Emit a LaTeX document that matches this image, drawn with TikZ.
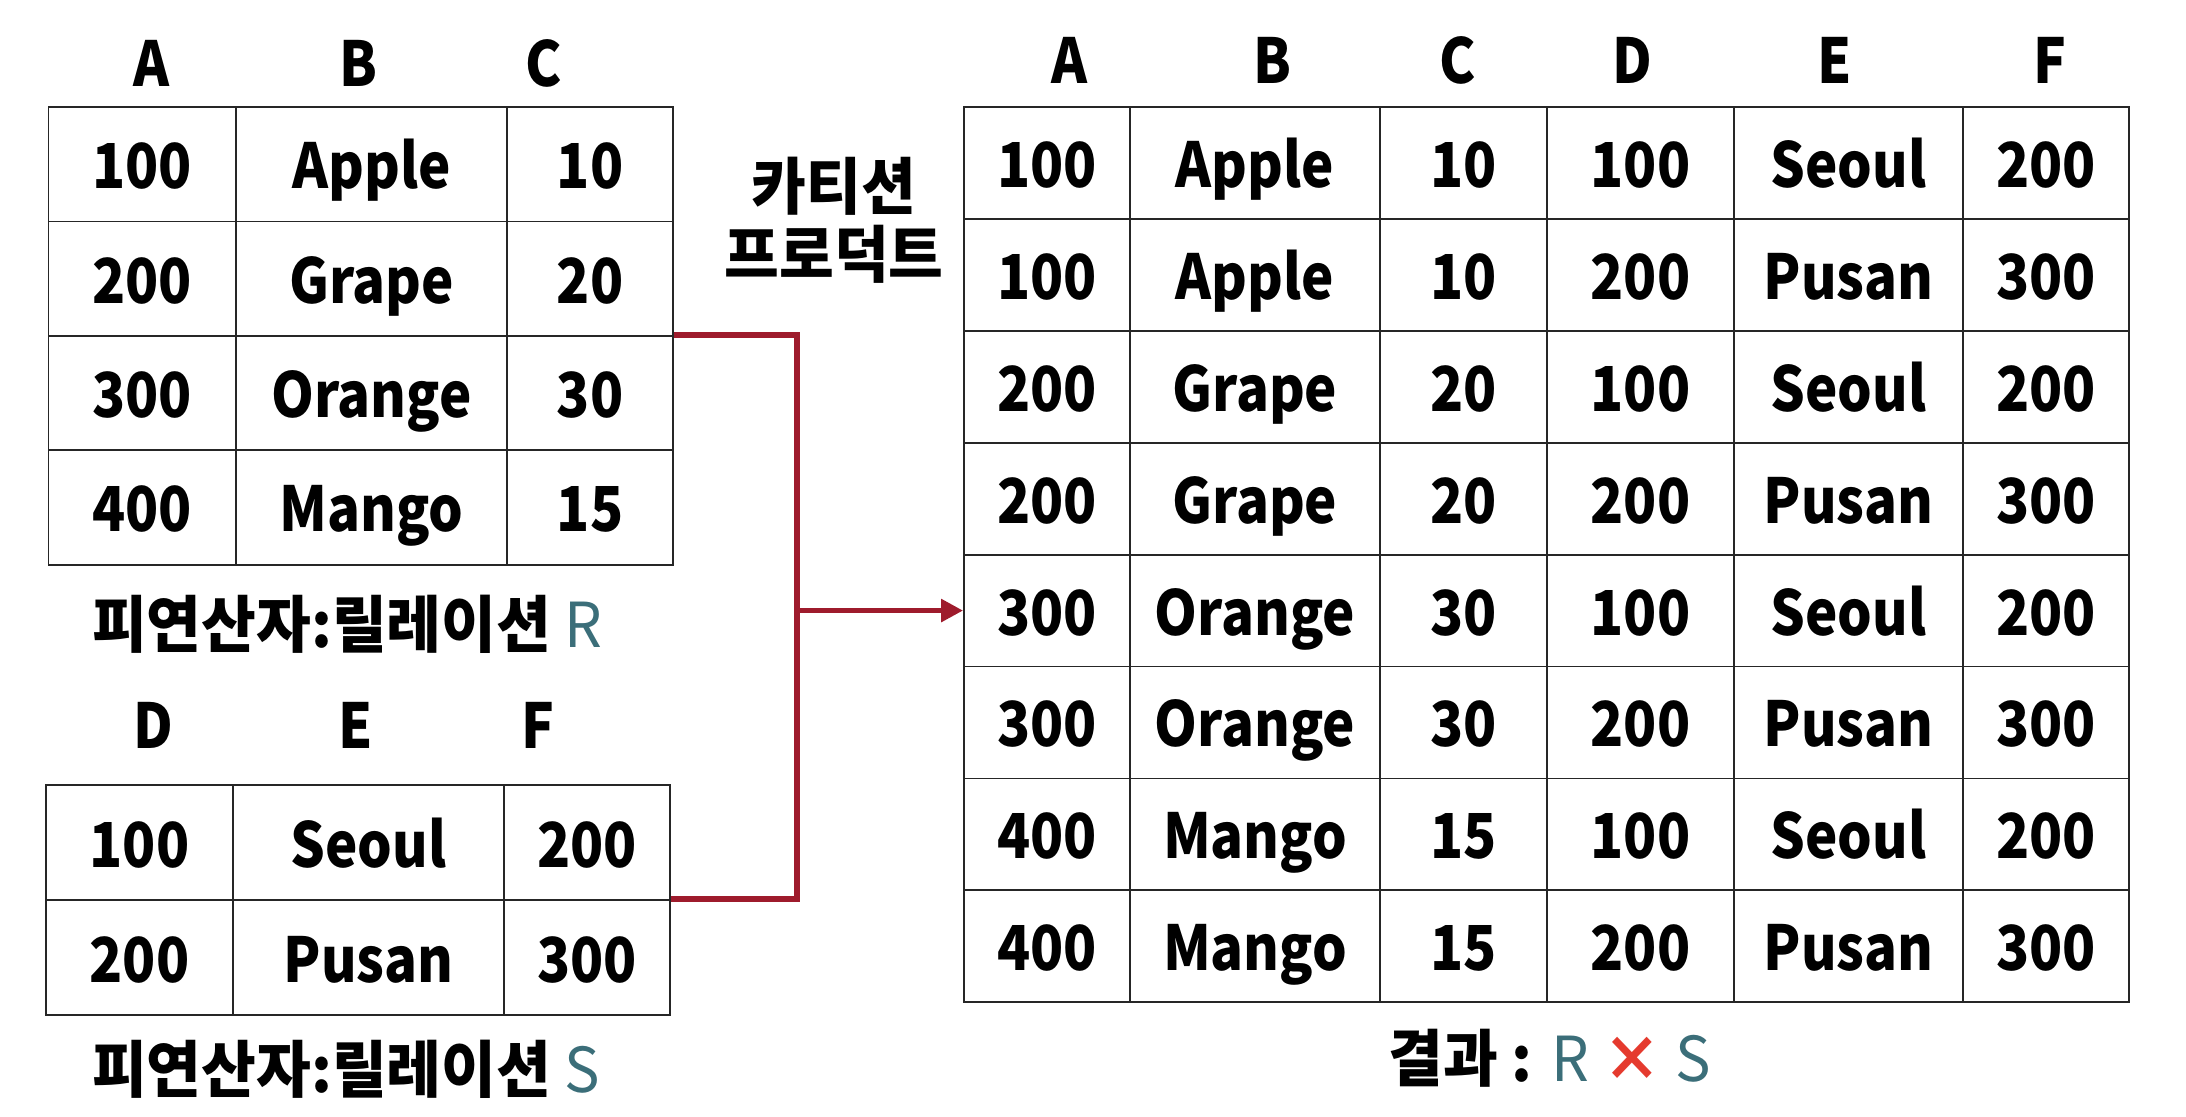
\documentclass[tikz,border=0pt]{standalone}
\usepackage{fontspec}
\setmainfont{Noto Sans CJK KR}[FakeStretch=0.88]
\newfontfamily\hanfont{Noto Sans CJK KR}[FakeStretch=0.96]
\usepackage{xcolor}
\usetikzlibrary{arrows.meta}

\definecolor{linkred}{HTML}{9E1B2C}
\definecolor{relteal}{HTML}{3B6E79}
\definecolor{crossred}{HTML}{E53A2E}
\newcommand{\tabfont}{\bfseries\fontsize{62}{68}\selectfont}

\tikzset{
  cell/.style={draw=black!85, line width=1.8pt, rectangle, inner sep=0pt, text height=49pt, text depth=0pt, font=\tabfont},
  rcell/.style={cell, minimum height=114.4pt},
  scell/.style={cell, minimum height=115pt},
  pcell/.style={cell, minimum height=111.9pt},
  head/.style={inner sep=0pt, anchor=base, font=\tabfont},
  caption/.style={inner sep=0pt, font=\hanfont\tabfont},
  link/.style={draw=linkred, line width=5.5pt},
}

\begin{document}
\begin{tikzpicture}[x=1pt, y=-1pt]
    \useasboundingbox (0,0) rectangle (2186,1116);

    % relation R
    \node[head] at (152,86) (rA) {A};
    \node[head] at (358,86) (rB) {B};
    \node[head] at (544,86) (rC) {C};
    \node[rcell, minimum width=187.5pt] at (142.25,164.2) (r1a) {100};
    \node[rcell, minimum width=271pt] at (371.5,164.2) (r1b) {Apple};
    \node[rcell, minimum width=166pt] at (590,164.2) (r1c) {10};
    \node[rcell, minimum width=187.5pt] at (142.25,278.6) (r2a) {200};
    \node[rcell, minimum width=271pt] at (371.5,278.6) (r2b) {Grape};
    \node[rcell, minimum width=166pt] at (590,278.6) (r2c) {20};
    \node[rcell, minimum width=187.5pt] at (142.25,393) (r3a) {300};
    \node[rcell, minimum width=271pt] at (371.5,393) (r3b) {Orange};
    \node[rcell, minimum width=166pt] at (590,393) (r3c) {30};
    \node[rcell, minimum width=187.5pt] at (142.25,507.4) (r4a) {400};
    \node[rcell, minimum width=271pt] at (371.5,507.4) (r4b) {Mango};
    \node[rcell, minimum width=166pt] at (590,507.4) (r4c) {15};
    \node[caption, anchor=base west] at (92,647) (rname) {피연산자:릴레이션 \textcolor{relteal}{\mdseries R}};

    % relation S
    \node[head] at (153,748) (sD) {D};
    \node[head] at (356,748) (sE) {E};
    \node[head] at (538,748) (sF) {F};
    \node[scell, minimum width=187pt] at (139.5,842.5) (s1d) {100};
    \node[scell, minimum width=271pt] at (368.5,842.5) (s1e) {Seoul};
    \node[scell, minimum width=166pt] at (587,842.5) (s1f) {200};
    \node[scell, minimum width=187pt] at (139.5,957.5) (s2d) {200};
    \node[scell, minimum width=271pt] at (368.5,957.5) (s2e) {Pusan};
    \node[scell, minimum width=166pt] at (587,957.5) (s2f) {300};
    \node[caption, anchor=base west] at (92,1092) (sname) {피연산자:릴레이션 \textcolor{relteal}{\mdseries S}};

    % operator
    \node[caption, align=center] at (834,220) (prod) {카티션\\프로덕트};

    % R x S
    \node[head] at (1069,84) (pA) {A};
    \node[head] at (1272,84) (pB) {B};
    \node[head] at (1458,84) (pC) {C};
    \node[head] at (1632,84) (pD) {D};
    \node[head] at (1835,84) (pE) {E};
    \node[head] at (2050,84) (pF) {F};

    \node[pcell, minimum width=166pt] at (1047,162.95) (p1a) {100};
    \node[pcell, minimum width=250pt] at (1255,162.95) (p1b) {Apple};
    \node[pcell, minimum width=167pt] at (1463.5,162.95) (p1c) {10};
    \node[pcell, minimum width=187pt] at (1640.5,162.95) (p1d) {100};
    \node[pcell, minimum width=229pt] at (1848.5,162.95) (p1e) {Seoul};
    \node[pcell, minimum width=166pt] at (2046,162.95) (p1f) {200};

    \node[pcell, minimum width=166pt] at (1047,274.85) (p2a) {100};
    \node[pcell, minimum width=250pt] at (1255,274.85) (p2b) {Apple};
    \node[pcell, minimum width=167pt] at (1463.5,274.85) (p2c) {10};
    \node[pcell, minimum width=187pt] at (1640.5,274.85) (p2d) {200};
    \node[pcell, minimum width=229pt] at (1848.5,274.85) (p2e) {Pusan};
    \node[pcell, minimum width=166pt] at (2046,274.85) (p2f) {300};

    \node[pcell, minimum width=166pt] at (1047,386.75) (p3a) {200};
    \node[pcell, minimum width=250pt] at (1255,386.75) (p3b) {Grape};
    \node[pcell, minimum width=167pt] at (1463.5,386.75) (p3c) {20};
    \node[pcell, minimum width=187pt] at (1640.5,386.75) (p3d) {100};
    \node[pcell, minimum width=229pt] at (1848.5,386.75) (p3e) {Seoul};
    \node[pcell, minimum width=166pt] at (2046,386.75) (p3f) {200};

    \node[pcell, minimum width=166pt] at (1047,498.65) (p4a) {200};
    \node[pcell, minimum width=250pt] at (1255,498.65) (p4b) {Grape};
    \node[pcell, minimum width=167pt] at (1463.5,498.65) (p4c) {20};
    \node[pcell, minimum width=187pt] at (1640.5,498.65) (p4d) {200};
    \node[pcell, minimum width=229pt] at (1848.5,498.65) (p4e) {Pusan};
    \node[pcell, minimum width=166pt] at (2046,498.65) (p4f) {300};

    \node[pcell, minimum width=166pt] at (1047,610.55) (p5a) {300};
    \node[pcell, minimum width=250pt] at (1255,610.55) (p5b) {Orange};
    \node[pcell, minimum width=167pt] at (1463.5,610.55) (p5c) {30};
    \node[pcell, minimum width=187pt] at (1640.5,610.55) (p5d) {100};
    \node[pcell, minimum width=229pt] at (1848.5,610.55) (p5e) {Seoul};
    \node[pcell, minimum width=166pt] at (2046,610.55) (p5f) {200};

    \node[pcell, minimum width=166pt] at (1047,722.45) (p6a) {300};
    \node[pcell, minimum width=250pt] at (1255,722.45) (p6b) {Orange};
    \node[pcell, minimum width=167pt] at (1463.5,722.45) (p6c) {30};
    \node[pcell, minimum width=187pt] at (1640.5,722.45) (p6d) {200};
    \node[pcell, minimum width=229pt] at (1848.5,722.45) (p6e) {Pusan};
    \node[pcell, minimum width=166pt] at (2046,722.45) (p6f) {300};

    \node[pcell, minimum width=166pt] at (1047,834.35) (p7a) {400};
    \node[pcell, minimum width=250pt] at (1255,834.35) (p7b) {Mango};
    \node[pcell, minimum width=167pt] at (1463.5,834.35) (p7c) {15};
    \node[pcell, minimum width=187pt] at (1640.5,834.35) (p7d) {100};
    \node[pcell, minimum width=229pt] at (1848.5,834.35) (p7e) {Seoul};
    \node[pcell, minimum width=166pt] at (2046,834.35) (p7f) {200};

    \node[pcell, minimum width=166pt] at (1047,946.25) (p8a) {400};
    \node[pcell, minimum width=250pt] at (1255,946.25) (p8b) {Mango};
    \node[pcell, minimum width=167pt] at (1463.5,946.25) (p8c) {15};
    \node[pcell, minimum width=187pt] at (1640.5,946.25) (p8d) {200};
    \node[pcell, minimum width=229pt] at (1848.5,946.25) (p8e) {Pusan};
    \node[pcell, minimum width=166pt] at (2046,946.25) (p8f) {300};

    \node[caption, anchor=base] at (1550,1081) (pname) {결과 : \textcolor{relteal}{\mdseries R} \textcolor{crossred}{×} \textcolor{relteal}{\mdseries S}};

    % links
    \coordinate (fork) at (797,610.55);
    \draw[link] (r3c.north east) -| (fork) |- (s2f.north east);
    \draw[link, -{Triangle[length=22pt, width=22pt]}] (fork) -- (p5a.west);
\end{tikzpicture}
\end{document}
